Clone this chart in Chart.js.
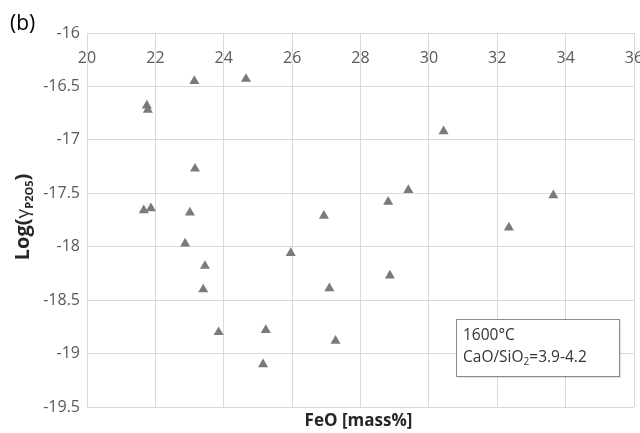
<!DOCTYPE html>
<html>
<head>
<meta charset="utf-8">
<script src="https://cdn.jsdelivr.net/npm/chart.js@4/dist/chart.umd.min.js"></script>
<style>
  html, body { margin: 0; padding: 0; background: #ffffff; }
  #wrap { width: 640px; height: 433px; }
</style>
</head>
<body>
<div id="wrap"><canvas id="chart" width="640" height="433"></canvas></div>
<script>
// FeO content of the slag (mass%)
const feo = [
  21.75, 21.78, 23.14, 24.65, 30.43,
  23.16, 21.66, 21.87, 23.01, 22.87,
  23.45, 23.40, 29.40, 28.81, 26.93,
  25.96, 28.86, 27.09, 33.64, 32.34,
  23.85, 25.23, 27.27, 25.15
];
// log of the P2O5 activity coefficient
const logGamma = [
  -16.68, -16.72, -16.45, -16.43, -16.92,
  -17.27, -17.66, -17.64, -17.68, -17.97,
  -18.18, -18.40, -17.47, -17.58, -17.71,
  -18.06, -18.27, -18.39, -17.52, -17.82,
  -18.80, -18.78, -18.88, -19.10
];
// axis ranges and tick spacing
const xRange = [20, 36, 2];
const yRange = [-19.5, -16, 0.5];
// text box contents
const noteLines = ['1600°C', 'CaO/SiO', '2', '=3.9-4.2'];
const panelLabel = '(b)';
const xTitle = 'FeO [mass%]';

const points = feo.map((x, i) => ({ x: x, y: logGamma[i] }));

const FONT = "'Open Sans', 'DejaVu Sans', sans-serif";

const decorations = {
  id: 'decorations',
  afterDraw(chart) {
    const ctx = chart.ctx;
    const a = chart.chartArea;
    ctx.save();

    // panel label
    ctx.fillStyle = '#000000';
    ctx.font = '21px ' + FONT;
    ctx.textAlign = 'left';
    ctx.textBaseline = 'middle';
    ctx.fillText(panelLabel, 10, 24);

    // x axis title under the plot
    ctx.fillStyle = '#262626';
    ctx.font = 'bold 17px ' + FONT;
    ctx.textAlign = 'center';
    ctx.textBaseline = 'middle';
    ctx.fillText(xTitle, (a.left + a.right) / 2 - 2, 421);

    // y axis title, rotated, with subscript
    ctx.save();
    ctx.translate(22, 217);
    ctx.rotate(-Math.PI / 2);
    const segs = [
      { t: 'Log(', f: 'bold 20px ' + FONT, dy: 0 },
      { t: 'γ', f: '19px ' + FONT, dy: 0 },
      { t: 'P2O5', f: 'bold 11px ' + FONT, dy: 4 },
      { t: ')', f: 'bold 20px ' + FONT, dy: 0 }
    ];
    let total = 0;
    segs.forEach(s => { ctx.font = s.f; s.w = ctx.measureText(s.t).width; total += s.w; });
    let cx = -total / 2;
    ctx.textAlign = 'left';
    ctx.textBaseline = 'alphabetic';
    segs.forEach(s => {
      ctx.font = s.f;
      ctx.fillText(s.t, cx, 7 + s.dy);
      cx += s.w;
    });
    ctx.restore();

    // annotation box
    const bx = a.left + 369, by = a.top + 286, bw = 163, bh = 57;
    ctx.fillStyle = 'rgba(0,0,0,0.12)';
    ctx.fillRect(bx + 2, by + 2, bw, bh);
    ctx.fillStyle = '#ffffff';
    ctx.fillRect(bx, by, bw, bh);
    ctx.strokeStyle = '#8c8c8c';
    ctx.lineWidth = 1;
    ctx.strokeRect(bx + 0.5, by + 0.5, bw, bh);

    ctx.fillStyle = '#333333';
    ctx.textAlign = 'left';
    ctx.textBaseline = 'middle';
    ctx.font = '15.5px ' + FONT;
    const tx = bx + 7;
    ctx.fillText(noteLines[0], tx, by + 17);
    let px = tx;
    const y2 = by + 39;
    ctx.fillText(noteLines[1], px, y2);
    px += ctx.measureText(noteLines[1]).width;
    ctx.font = '10px ' + FONT;
    ctx.fillText(noteLines[2], px, y2 + 4);
    px += ctx.measureText(noteLines[2]).width;
    ctx.font = '15.5px ' + FONT;
    ctx.fillText(noteLines[3], px, y2);

    ctx.restore();
  }
};

new Chart(document.getElementById('chart'), {
  type: 'scatter',
  data: {
    datasets: [{
      data: points,
      pointStyle: 'triangle',
      pointRadius: 5.8,
      pointHoverRadius: 5.8,
      backgroundColor: '#7a7a7a',
      borderColor: '#7a7a7a',
      borderWidth: 0
    }]
  },
  options: {
    responsive: false,
    animation: false,
    devicePixelRatio: 1,
    layout: { padding: { left: 0, top: 33, right: 6, bottom: 26 } },
    plugins: {
      legend: { display: false },
      tooltip: { enabled: false }
    },
    scales: {
      x: {
        type: 'linear',
        position: 'top',
        min: xRange[0],
        max: xRange[1],
        ticks: {
          stepSize: xRange[2],
          mirror: true,
          padding: 16,
          color: '#595959',
          font: { family: FONT, size: 16 },
          callback: v => String(v)
        },
        grid: { color: '#d9d9d9', lineWidth: 1, drawTicks: false },
        border: { color: '#d9d9d9', width: 1 },
        afterFit(scale) {
          scale.height = 0;
          scale.paddingLeft = 0;
          scale.paddingRight = 0;
        }
      },
      y: {
        type: 'linear',
        position: 'left',
        min: yRange[0],
        max: yRange[1],
        ticks: {
          stepSize: yRange[2],
          padding: 7,
          color: '#595959',
          font: { family: FONT, size: 16 },
          callback: v => String(v)
        },
        grid: { color: '#d9d9d9', lineWidth: 1, drawTicks: false },
        border: { color: '#d9d9d9', width: 1 },
        afterFit(scale) {
          scale.width = 87;
          scale.paddingTop = 0;
          scale.paddingBottom = 0;
        }
      }
    }
  },
  plugins: [decorations]
});
</script>
</body>
</html>
